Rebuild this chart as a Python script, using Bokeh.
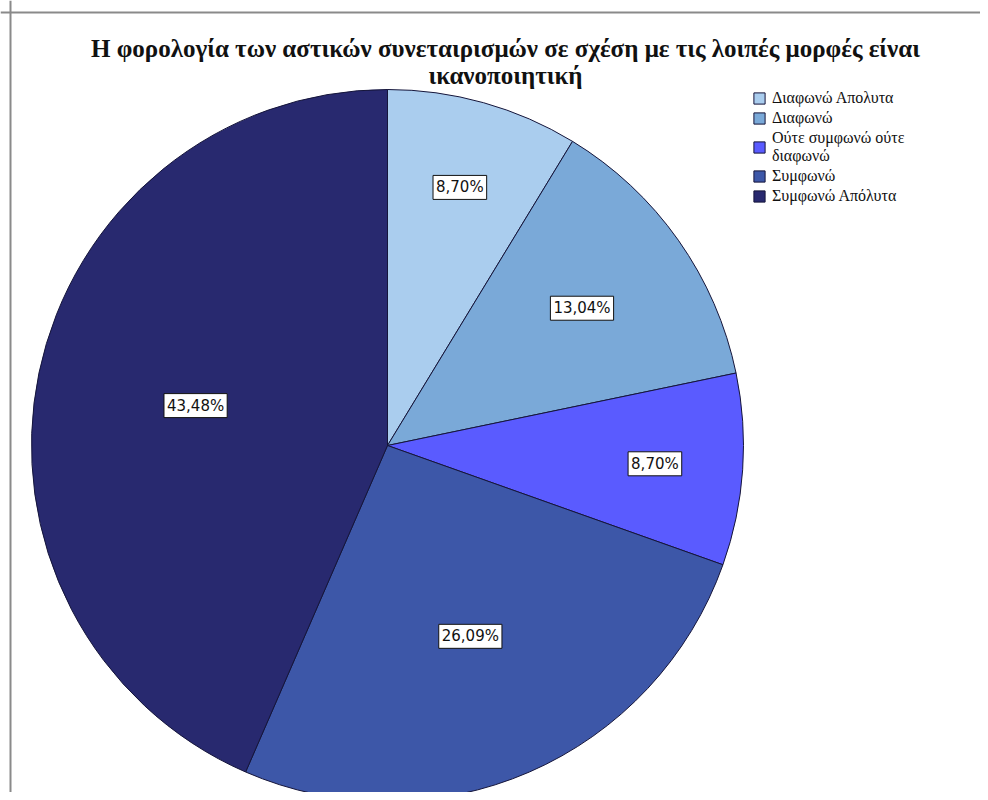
import numpy as np
from bokeh.plotting import figure
from bokeh.models import ColumnDataSource, Range1d, Label, Span
from bokeh.core.properties import value
from bokeh.embed import file_html
from bokeh.resources import INLINE

# ---- data ----
categories = ["Διαφωνώ Απολυτα", "Διαφωνώ", "Ούτε συμφωνώ ούτε\nδιαφωνώ", "Συμφωνώ", "Συμφωνώ Απόλυτα"]
percent = [8.70, 13.04, 8.70, 26.09, 43.48]
pct_labels = ["8,70%", "13,04%", "8,70%", "26,09%", "43,48%"]
title_lines = ["Η φορολογία των αστικών συνεταιρισμών σε σχέση με τις λοιπές μορφές είναι",
               "ικανοποιητική"]

# ---- style ----
colors = ["#aacdee", "#7aa9d8", "#5a5bff", "#3d57a8", "#28296f"]
W, H = 980, 792
cx, cy, R = 387, -445, 356

share = np.array(percent) / np.sum(percent)
cum = np.concatenate([[0], np.cumsum(share)])
start = np.pi / 2 - 2 * np.pi * cum[:-1]
end = np.pi / 2 - 2 * np.pi * cum[1:]
mid = (start + end) / 2
frac = 0.5 + 0.022 / share
lx = cx + R * frac * np.cos(mid)
ly = cy + R * frac * np.sin(mid)

src = ColumnDataSource(dict(cat=categories, start=start, end=end, color=colors,
                            lx=lx, ly=ly, lab=pct_labels))

p = figure(width=W, height=H, output_backend="svg", toolbar_location=None,
           x_range=Range1d(0, W), y_range=Range1d(-H, 0), min_border=0)
p.axis.visible = False
p.grid.visible = False
p.outline_line_color = None
p.background_fill_color = "white"

p.wedge(x=cx, y=cy, radius=R, start_angle="start", end_angle="end", direction="clock",
        fill_color="color", line_color="#15153a", line_width=1, source=src,
        legend_field="cat")

p.text(x="lx", y="ly", text="lab", source=src, text_align="center",
       text_baseline="middle", text_font=value("DejaVu Sans"), text_font_size="15px",
       text_color="#111111", background_fill_color="white",
       border_line_color="#111111", border_line_width=1, padding=3)

for i, t in enumerate(title_lines):
    p.add_layout(Label(x=505, y=-48 - 27 * i, text=t, text_align="center", text_baseline="middle",
                       text_font="Liberation Serif", text_font_style="bold",
                       text_font_size="25px", text_color="#111111"))

p.add_layout(Span(location=-12, dimension="width", line_color="#8a8a8a", line_width=2))
p.add_layout(Span(location=10, dimension="height", line_color="#8a8a8a", line_width=2))

lg = p.legend[0]
lg.location = (752, 587)
lg.glyph_width = 14
lg.glyph_height = 14
lg.label_text_font = "Liberation Serif"
lg.label_text_font_size = "16px"
lg.label_text_color = "#111111"
lg.label_text_line_height = 0.95
lg.label_height = 15
lg.label_standoff = 6
lg.spacing = 2
lg.padding = 0
lg.margin = 0
lg.border_line_alpha = 0
lg.background_fill_alpha = 0

open("out.html", "w").write(file_html(p, INLINE))
